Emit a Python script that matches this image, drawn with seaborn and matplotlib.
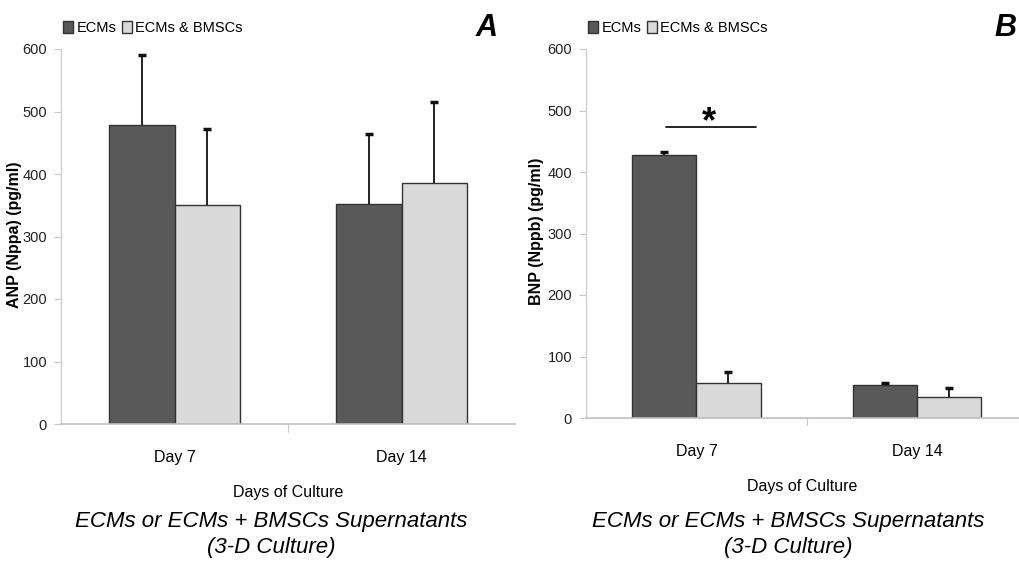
import numpy as np
import pandas as pd
import matplotlib
matplotlib.use("Agg")
import matplotlib.pyplot as plt
import seaborn as sns
from matplotlib.patches import Patch

# DATA
days = ["Day 7", "Day 14"]
groups = ["ECMs", "ECMs & BMSCs"]

anp_ecm = [478, 352]
anp_ecm_err = [113, 112]
anp_both = [350, 386]
anp_both_err = [122, 129]

bnp_ecm = [428, 54]
bnp_ecm_err = [5, 3]
bnp_both = [57, 34]
bnp_both_err = [18, 15]

colors = ["#595959", "#d9d9d9"]

sns.set_theme(style="white")
plt.rcParams["font.family"] = ["Liberation Sans", "DejaVu Sans"]
plt.rcParams["text.color"] = "black"
plt.rcParams["axes.labelcolor"] = "black"
plt.rcParams["xtick.color"] = "black"
plt.rcParams["ytick.color"] = "black"

fig = plt.figure(figsize=(10.19, 5.62), dpi=100)
axA = fig.add_axes([61 / 1019, 1 - 424 / 562, 454 / 1019, 375 / 562])
axB = fig.add_axes([586 / 1019, 1 - 418 / 562, 433 / 1019, 369 / 562])


def panel(ax, ecm, ecm_err, both, both_err, ylabel, xmax, label_x):
    df = pd.DataFrame({
        "day": days * 2,
        "group": [groups[0]] * 2 + [groups[1]] * 2,
        "value": ecm + both,
    })
    err = ecm_err + both_err
    sns.barplot(data=df, x="day", y="value", hue="group", order=days, hue_order=groups,
                palette=colors, width=0.58, gap=0, errorbar=None, legend=False,
                edgecolor="#333333", linewidth=1.0, ax=ax)
    # one-sided error bars on top of each bar
    bars = [p for p in ax.patches if p.get_height() > 0]
    for i, p in enumerate(bars):
        x = p.get_x() + p.get_width() / 2
        top = p.get_height() + err[i]
        ax.vlines(x, p.get_height(), top, color="#111111", lw=1.3)
        ax.plot([x], [top], marker="_", ms=6, mew=2.5, color="#111111")
    ax.set_ylim(0, 600)
    ax.set_xlim(-0.5, xmax)
    ax.set_yticks(range(0, 601, 100))
    ax.set_yticklabels([str(v) for v in range(0, 601, 100)], fontsize=10.5)
    ax.set_xticks([0, 1])
    ax.set_xticklabels(days, fontsize=11.5)
    ax.tick_params(axis="x", length=0, pad=19)
    ax.tick_params(axis="y", length=5, width=0.8, color="#c8c8c8", left=True, pad=5,
                   labelcolor="#222222")
    ax.set_ylabel(ylabel, fontsize=11.5, fontweight="bold")
    ax.yaxis.set_label_coords(label_x, 0.505)
    ax.set_xlabel("Days of Culture", fontsize=11.5, labelpad=14)
    for s in ["top", "right"]:
        ax.spines[s].set_visible(False)
    ax.spines["left"].set_color("#d0d0d0")
    ax.spines["bottom"].set_color("#c0c0c0")
    ax.spines["left"].set_linewidth(1.0)
    ax.spines["bottom"].set_linewidth(1.2)
    ax.plot([0.5, 0.5], [0, -12], color="#c8c8c8", lw=0.8, clip_on=False)
    handles = [Patch(facecolor=c, edgecolor="#333333", label=g) for c, g in zip(colors, groups)]
    ax.legend(handles=handles, loc="center left", bbox_to_anchor=(0.005, 1.057), ncol=2,
              frameon=False, handlelength=0.7, handleheight=0.9, handletextpad=0.2,
              columnspacing=0.4, borderaxespad=0, borderpad=0, prop={"size": 10.5})


panel(axA, anp_ecm, anp_ecm_err, anp_both, anp_both_err, "ANP (Nppa) (pg/ml)", 1.5, -0.086)
panel(axB, bnp_ecm, bnp_ecm_err, bnp_both, bnp_both_err, "BNP (Nppb) (pg/ml)", 1.46, -0.098)

# significance marker in panel B
axB.plot([-0.14, 0.27], [473, 473], color="black", lw=1.2)
axB.text(0.055, 452, "*", ha="center", va="bottom", fontsize=26, fontweight="bold")

# panel letters
fig.text(487 / 1019, 1 - 28 / 562, "A", ha="center", va="center", fontsize=22,
         fontweight="bold", fontstyle="italic")
fig.text(1005 / 1019, 1 - 28 / 562, "B", ha="center", va="center", fontsize=22,
         fontweight="bold", fontstyle="italic")

# captions
for xc in [271 / 1019, 788 / 1019]:
    fig.text(xc, 1 - 522 / 562, "ECMs or ECMs + BMSCs Supernatants", ha="center", va="center",
             fontsize=16, fontstyle="italic")
    fig.text(xc, 1 - 548 / 562, "(3-D Culture)", ha="center", va="center",
             fontsize=16, fontstyle="italic")

fig.savefig("out.png", dpi=100)
